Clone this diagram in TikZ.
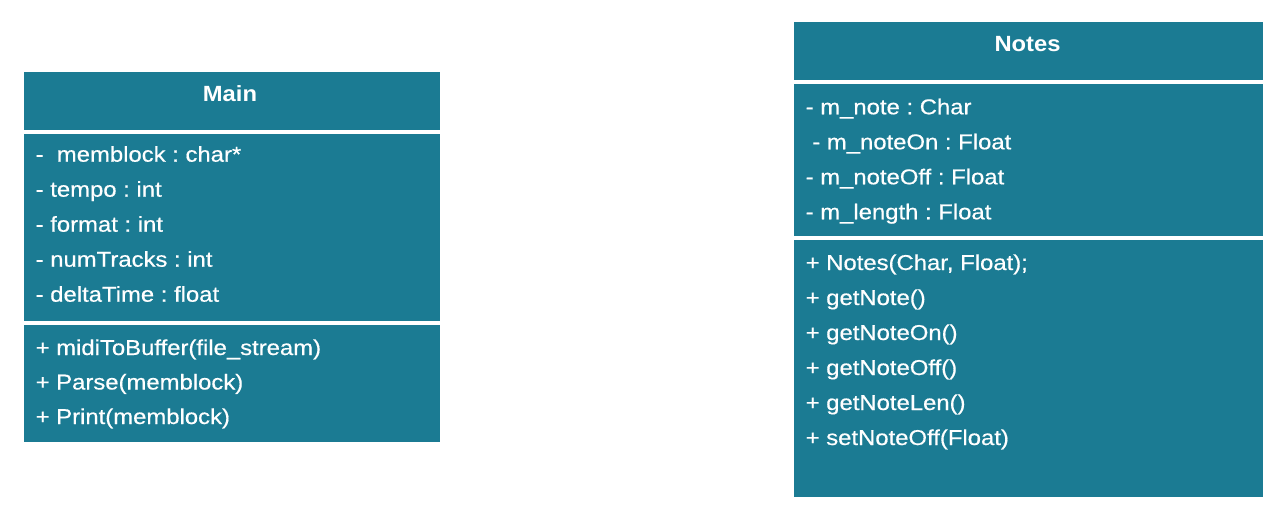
\documentclass[tikz,border=0pt]{standalone}
\usepackage{fontspec}
\setmainfont{Liberation Sans}
\newfontfamily\bodyfont{Liberation Sans}[FakeStretch=1.11,FakeBold=0.5]
\newfontfamily\titlefont{Liberation Sans}[FakeStretch=1.08]
\definecolor{teal1}{HTML}{1B7B93}
\frenchspacing
\begin{document}
\begin{tikzpicture}[x=1pt,y=-1pt,
  sect/.style={fill=teal1,draw=none,inner sep=0,outer sep=0,anchor=north west},
  txt/.style={text=white,inner sep=0,anchor=base west,font=\bodyfont\fontsize{21.5}{26}\selectfont},
  ttl/.style={text=white,inner sep=0,anchor=base,font=\titlefont\bfseries\fontsize{22}{26}\selectfont}]
\useasboundingbox[fill=white] (0,0) rectangle (1286,516);
% Main
\node[sect,minimum width=416,minimum height=58] (mainH) at (24,72) {};
\node[sect,minimum width=416,minimum height=187] (mainA) at (24,134) {};
\node[sect,minimum width=416,minimum height=117] (mainM) at (24,325) {};
\node[ttl] (mainT) at (230,101.5) {Main};
\node[txt] (ma1) at (35.5,161.7) {-\ \ memblock : char*};
\node[txt] (ma2) at (35.5,196.7) {- tempo : int};
\node[txt] (ma3) at (35.5,231.7) {- format : int};
\node[txt] (ma4) at (35.5,266.7) {- numTracks : int};
\node[txt] (ma5) at (35.5,301.7) {- deltaTime : float};
\node[txt] (mm1) at (35.5,355) {+ midiToBuffer(file\_stream)};
\node[txt] (mm2) at (35.5,389.5) {+ Parse(memblock)};
\node[txt] (mm3) at (35.5,424) {+ Print(memblock)};
% Notes
\node[sect,minimum width=469,minimum height=58] (notH) at (794,22) {};
\node[sect,minimum width=469,minimum height=152] (notA) at (794,84) {};
\node[sect,minimum width=469,minimum height=257] (notM) at (794,240) {};
\node[ttl] (notT) at (1027.5,51.5) {Notes};
\node[txt] (na1) at (805.5,114.3) {- m\_note : Char};
\node[txt] (na2) at (805.5,149.3) {\ - m\_noteOn : Float};
\node[txt] (na3) at (805.5,184.3) {- m\_noteOff : Float};
\node[txt] (na4) at (805.5,219.3) {- m\_length : Float};
\node[txt] (nm1) at (805.5,270) {+ Notes(Char, Float);};
\node[txt] (nm2) at (805.5,305) {+ getNote()};
\node[txt] (nm3) at (805.5,340) {+ getNoteOn()};
\node[txt] (nm4) at (805.5,375) {+ getNoteOff()};
\node[txt] (nm5) at (805.5,410) {+ getNoteLen()};
\node[txt] (nm6) at (805.5,445) {+ setNoteOff(Float)};
\end{tikzpicture}
\end{document}
